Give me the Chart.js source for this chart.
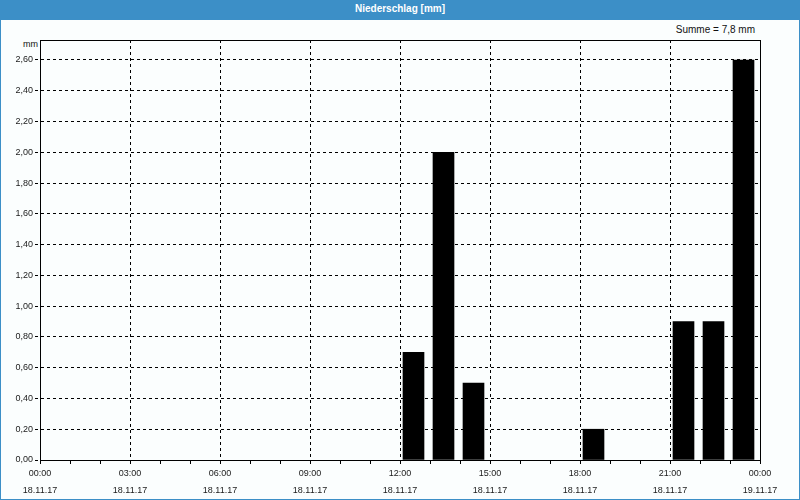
<!DOCTYPE html>
<html>
<head>
<meta charset="utf-8">
<script src="https://cdn.jsdelivr.net/npm/chart.js@4/dist/chart.umd.min.js"></script>
<style>
  html, body { margin: 0; padding: 0; background: #ffffff; }
  #frame { position: relative; width: 800px; height: 500px; box-sizing: border-box;
           border-left: 1px solid #3c8fc7; border-right: 1px solid #3c8fc7; border-bottom: 1px solid #3c8fc7;
           background: #fbfefe; overflow: hidden; }
  #titlebar { position: absolute; left: -1px; top: 0; width: 800px; height: 20px; background: #3c8fc7;
              color: #ffffff; font: bold 10px "Liberation Sans", Arial, sans-serif; text-align: center; line-height: 18px; }
  #summe { position: absolute; right: 44px; top: 24px; font: 10px "Liberation Sans", Arial, sans-serif; color: #111; }
  #unit { position: absolute; left: 22px; top: 39px; font: 9px "Liberation Sans", Arial, sans-serif; color: #111; }
  canvas { position: absolute; left: -1px; top: 0; }
</style>
</head>
<body>
<div id="frame">
  <div id="titlebar">Niederschlag [mm]</div>
  <div id="summe">Summe = 7,8 mm</div>
  <div id="unit">mm</div>
  <canvas id="c" width="800" height="500"></canvas>
</div>
<script>
// Hour start of each interval (0 = 00:00, 18.11.17)
const hours = [12, 13, 14, 18, 21, 22, 23];
// Precipitation per hour [mm]
const rain = [0.7, 2.0, 0.5, 0.2, 0.9, 0.9, 2.6];
// X tick labels every 3 hours
const timeLabels = ['00:00','03:00','06:00','09:00','12:00','15:00','18:00','21:00','00:00'];
const dateLabels = ['18.11.17','18.11.17','18.11.17','18.11.17','18.11.17','18.11.17','18.11.17','18.11.17','19.11.17'];
const yTicks = [0,0.2,0.4,0.6,0.8,1.0,1.2,1.4,1.6,1.8,2.0,2.2,2.4,2.6];

const points = hours.map((h, i) => ({ x: h + 0.45, y: rain[i] }));

const framePlugin = {
  id: 'frameBox',
  afterDraw(chart) {
    const a = chart.chartArea, ctx = chart.ctx;
    ctx.save();
    ctx.strokeStyle = '#000';
    ctx.lineWidth = 1;
    ctx.setLineDash([]);
    ctx.strokeRect(Math.round(a.left) + 0.5, Math.round(a.top) + 0.5,
                   Math.round(a.right - a.left), Math.round(a.bottom - a.top));
    ctx.restore();
  }
};

new Chart(document.getElementById('c'), {
  type: 'bar',
  data: {
    datasets: [{
      data: points,
      backgroundColor: '#000000',
      borderWidth: 0,
      barThickness: 21
    }]
  },
  options: {
    responsive: false,
    animation: false,
    events: [],
    layout: { padding: { top: 40, right: 40, left: 0, bottom: 0 } },
    plugins: { legend: { display: false }, tooltip: { enabled: false } },
    scales: {
      x: {
        type: 'linear',
        min: 0, max: 24,
        offset: false,
        afterBuildTicks(scale) {
          const t = [];
          for (let h = 0; h <= 24; h++) t.push({ value: h });
          scale.ticks = t;
        },
        afterFit(scale) { scale.height = 40; },
        ticks: {
          autoSkip: false,
          maxRotation: 0,
          padding: 1,
          color: '#1a1a1a',
          font: { family: '"Liberation Sans", Arial, sans-serif', size: 9, lineHeight: 1.9 },
          callback(v) {
            if (v % 3 !== 0) return '';
            const i = v / 3;
            return [timeLabels[i], dateLabels[i]];
          }
        },
        grid: {
          offset: false,
          drawTicks: true,
          tickLength: 4,
          tickColor: '#000',
          tickBorderDash: [],
          lineWidth: 1,
          color(ctx) { return (ctx.tick && ctx.tick.value % 3 === 0 && ctx.tick.value > 0 && ctx.tick.value < 24) ? '#000' : 'rgba(0,0,0,0)'; }
        },
        border: { display: true, color: '#000', width: 1, dash: [3, 3] }
      },
      y: {
        min: 0, max: 2.73,
        afterBuildTicks(scale) { scale.ticks = yTicks.map(v => ({ value: v })); },
        afterFit(scale) { scale.width = 40; },
        ticks: {
          padding: 2,
          color: '#1a1a1a',
          font: { family: '"Liberation Sans", Arial, sans-serif', size: 9 },
          callback(v) { return v.toFixed(2).replace('.', ','); }
        },
        grid: {
          offset: false,
          drawTicks: true,
          tickLength: 5,
          tickColor: '#000',
          tickBorderDash: [3, 3],
          lineWidth: 1,
          color(ctx) { return (ctx.tick && ctx.tick.value > 0) ? '#000' : 'rgba(0,0,0,0)'; }
        },
        border: { display: true, color: '#000', width: 1, dash: [3, 3] }
      }
    }
  },
  plugins: [framePlugin]
});
</script>
</body>
</html>
